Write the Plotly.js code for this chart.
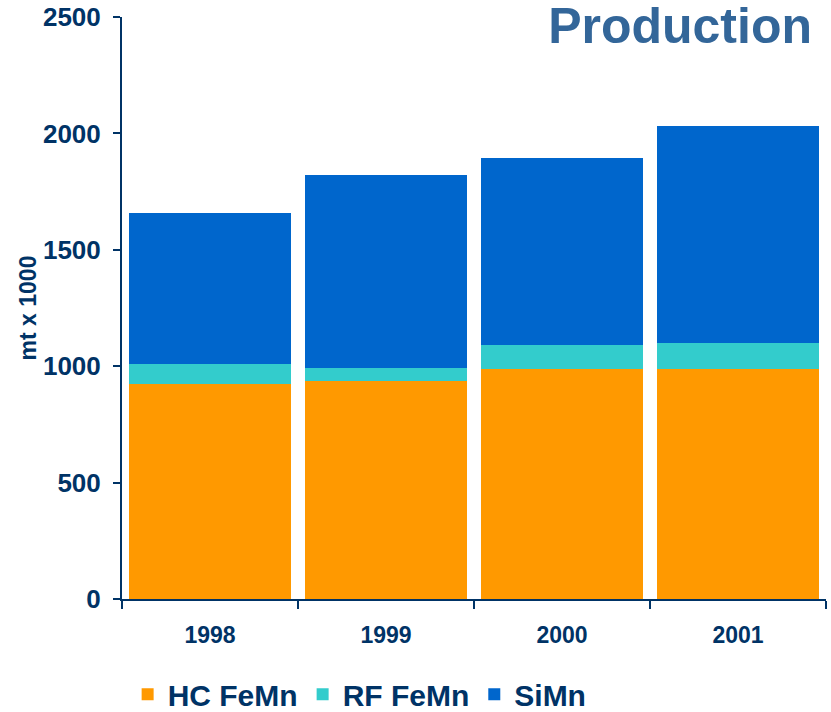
<!DOCTYPE html>
<html>
<head>
<meta charset="utf-8">
<script src="https://cdn.plot.ly/plotly-3.0.1.min.js"></script>
<style>
  html, body { margin: 0; padding: 0; background: #ffffff; }
  #chart { width: 831px; height: 712px; }
</style>
</head>
<body>
<div id="chart"></div>
<script>
// Manganese alloy production, thousand metric tonnes
const years = ['1998', '1999', '2000', '2001'];
const hcFeMn = [925, 935, 987, 987];
const rfFeMn = [83, 56, 103, 111];
const siMn = [650, 829, 803, 932];

const seriesNames = ['HC FeMn', 'RF FeMn', 'SiMn'];
const seriesColors = ['#FF9900', '#33CCCC', '#0066CC'];
const seriesValues = [hcFeMn, rfFeMn, siMn];

const navy = '#003366';
const fontFamily = '"Liberation Sans", Arial, sans-serif';

const traces = seriesValues.map((vals, i) => ({
  type: 'bar',
  name: seriesNames[i],
  x: years,
  y: vals,
  marker: { color: seriesColors[i], line: { width: 0 } },
  hoverinfo: 'x+y+name'
}));

const layout = {
  width: 831,
  height: 712,
  margin: { l: 122, r: 5, t: 17, b: 113, autoexpand: false },
  paper_bgcolor: '#ffffff',
  plot_bgcolor: '#ffffff',
  barmode: 'stack',
  bargap: 0.08,
  font: { family: fontFamily, color: navy },
  title: {
    text: '<b>Production</b>',
    font: { family: fontFamily, size: 50, color: '#336699' },
    xref: 'container',
    yref: 'container',
    x: 812 / 831,
    xanchor: 'right',
    y: 1 - 25 / 712,
    yanchor: 'middle'
  },
  xaxis: {
    type: 'category',
    showgrid: false,
    zeroline: false,
    showline: true,
    linecolor: navy,
    linewidth: 2,
    ticks: 'outside',
    tickson: 'boundaries',
    ticklen: 8,
    tickwidth: 2,
    tickcolor: navy,
    ticklabelstandoff: 14,
    tickfont: { family: fontFamily, size: 23, color: navy, weight: 'bold' },
    range: [-0.5, 3.5],
    fixedrange: true
  },
  yaxis: {
    range: [0, 2500],
    dtick: 500,
    tick0: 0,
    showgrid: false,
    zeroline: false,
    showline: true,
    linecolor: navy,
    linewidth: 2,
    ticks: 'outside',
    ticklen: 7,
    tickwidth: 2,
    tickcolor: navy,
    ticklabelstandoff: 7,
    tickfont: { family: fontFamily, size: 26, color: navy, weight: 'bold' },
    title: {
      text: '<b>mt x 1000</b>',
      font: { family: fontFamily, size: 23, color: navy },
      standoff: 0
    },
    fixedrange: true
  },
  showlegend: true,
  legend: {
    orientation: 'h',
    traceorder: 'normal',
    x: 0.008,
    xanchor: 'left',
    y: -0.119,
    yanchor: 'top',
    font: { family: fontFamily, size: 30, color: navy, weight: 'bold' },
    bgcolor: 'rgba(0,0,0,0)',
    borderwidth: 0
  }
};

Plotly.newPlot('chart', traces, layout, { displayModeBar: false, staticPlot: true });
</script>
</body>
</html>
